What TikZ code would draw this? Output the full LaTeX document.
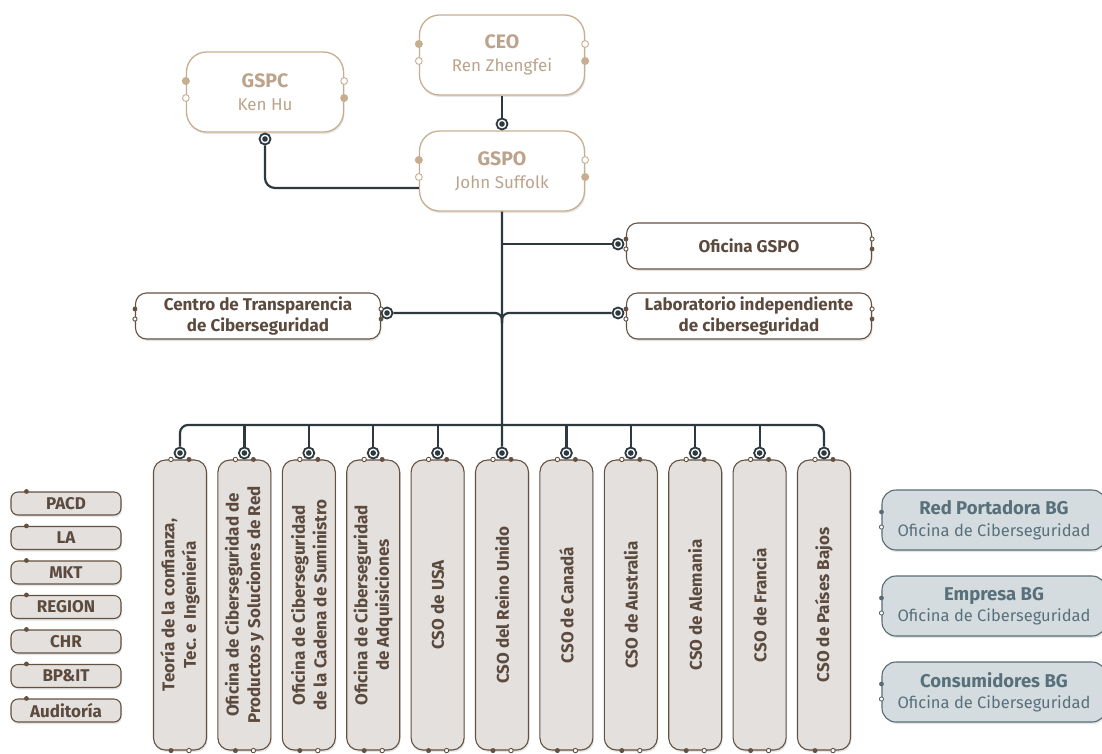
\documentclass[tikz,border=0pt]{standalone}
\usepackage{fontspec}
\setmainfont{Fira Sans}
\usetikzlibrary{positioning, shadows}
\definecolor{tanline}{HTML}{C8AE90}
\definecolor{tantext}{HTML}{BBA38C}
\definecolor{brownline}{HTML}{65513F}
\definecolor{browntext}{HTML}{5B4A3D}
\definecolor{colfill}{HTML}{E3E0DD}
\definecolor{bgfill}{HTML}{D5DCDF}
\definecolor{bgline}{HTML}{586C76}
\definecolor{bgtext}{HTML}{58707B}
\definecolor{linkc}{HTML}{2D393F}
\newcommand\headname[1]{{\fontsize{19.5}{24}\selectfont\bfseries #1}}

\begin{document}
\begin{tikzpicture}[x=1pt,y=-1pt,softshadow/.style={drop shadow={shadow xshift=1pt,shadow yshift=-2pt,opacity=0.10,fill=black}},topbox/.style={draw=tanline,line width=1.3pt,rounded corners=20pt,fill=white,align=center,text=tantext,font=\fontsize{17}{23}\selectfont,minimum width=165pt,minimum height=80pt,softshadow},midbox/.style={draw=brownline,line width=1.1pt,rounded corners=11pt,fill=white,align=center,text=browntext,font=\bfseries\fontsize{17}{21.5}\selectfont,minimum width=245pt,minimum height=46pt,inner sep=2pt,softshadow},colbox/.style={draw=brownline,line width=1.1pt,rounded corners=12pt,fill=colfill,rotate=90,align=center,text=browntext,font=\bfseries\fontsize{17}{21.5}\selectfont,minimum width=290pt,minimum height=53pt,inner sep=2pt,softshadow},tagbox/.style={draw=brownline,line width=1.1pt,rounded corners=7pt,fill=colfill,text=browntext,font=\bfseries\fontsize{17}{20}\selectfont,minimum width=110pt,minimum height=23pt,inner sep=0pt,softshadow},bgbox/.style={draw=bgline,line width=1.1pt,rounded corners=14pt,fill=bgfill,align=center,text=bgtext,font=\fontsize{16.5}{21.5}\selectfont,minimum width=224pt,minimum height=60pt,inner sep=2pt,softshadow},link/.style={draw=linkc,line width=2.2pt},marker/.style={circle,draw=linkc,line width=1.8pt,fill=white,minimum size=11pt,inner sep=0pt,path picture={\fill[linkc] (path picture bounding box.center) circle (2.8pt);}},dotfill/.style={fill=#1},dothollow/.style={draw=#1,fill=white,line width=0.9pt}]
\useasboundingbox[fill=white] (0,0) rectangle (1102,753);
\node[topbox] (ceo) at (502,55) {\headname{CEO}\\Ren Zhengfei};
\node[topbox, minimum width=157pt] (gspc) at (265,92) {\headname{GSPC}\\Ken Hu};
\node[topbox] (gspo) at (502,171) {\headname{GSPO}\\John Suffolk};
\node[marker] (mgspo) at (502,124) {};
\node[marker] (mgspc) at (265,139) {};
\draw[link] (ceo) -- (mgspo);
\draw[link, rounded corners=10pt] (mgspc) |- ([yshift=-17pt]gspo.west);
\node[midbox] (ofi) at (749,246) {Oficina GSPO};
\node[midbox] (lab) at (749,316) {Laboratorio independiente\\de ciberseguridad};
\node[midbox] (centro) at (258,316) {Centro de Transparencia\\de Ciberseguridad};
\node[marker] (mofi) at (618,244) {};
\node[marker] (mlab) at (618,313) {};
\node[marker] (mcentro) at (387,313) {};
\coordinate (hop) at (502,323);
\coordinate (bus) at (502,425);
\draw[link] (gspo.south |- mofi) -- (mofi);
\draw[link, rounded corners=7pt] (mcentro) -| (hop);\draw[link, rounded corners=7pt] (mlab) -| (hop);
\node[colbox] (c1) at (180,605) {Teoría de la confianza,\\Tec. e Ingeniería};
\node[colbox] (c2) at (244.4,605) {Oficina de Ciberseguridad de\\Productos y Soluciones de Red};
\node[colbox] (c3) at (308.8,605) {Oficina de Ciberseguridad\\de la Cadena de Suministro};
\node[colbox] (c4) at (373.2,605) {Oficina de Ciberseguridad\\de Adquisiciones};
\node[colbox] (c5) at (437.6,605) {CSO de USA};
\node[colbox] (c6) at (502,605) {CSO del Reino Unido};
\node[colbox] (c7) at (566.4,605) {CSO de Canadá};
\node[colbox] (c8) at (630.8,605) {CSO de Australia};
\node[colbox] (c9) at (695.2,605) {CSO de Alemania};
\node[colbox] (c10) at (759.6,605) {CSO de Francia};
\node[colbox] (c11) at (824,605) {CSO de Países Bajos};
\foreach \i in {1,...,11} \node[marker] (mc\i) at (115.6+64.4*\i,453) {};
\draw[link] (gspo) -- (mc6);
\draw[link, rounded corners=8pt] (mc1) |- (bus) -| (mc11);
\foreach \i in {2,3,4,5,7,8,9,10} \draw[link] (mc\i) -- (mc\i |- bus);
\node[tagbox] (pacd) at (66,503.5) {PACD};
\node[tagbox] (la) at (66,538) {LA};
\node[tagbox] (mkt) at (66,572.5) {MKT};
\node[tagbox] (region) at (66,607) {REGION};
\node[tagbox] (chr) at (66,641.5) {CHR};
\node[tagbox] (bpit) at (66,676) {BP\&IT};
\node[tagbox] (audit) at (66,710.5) {Auditoría};
\node[bgbox] (redbg) at (994,520) {\textbf{\fontsize{18.5}{21.5}\selectfont Red Portadora BG}\\Oficina de Ciberseguridad};
\node[bgbox] (empbg) at (994,606) {\textbf{\fontsize{18.5}{21.5}\selectfont Empresa BG}\\Oficina de Ciberseguridad};
\node[bgbox] (conbg) at (994,692) {\textbf{\fontsize{18.5}{21.5}\selectfont Consumidores BG}\\Oficina de Ciberseguridad};
\foreach \n in {ceo,gspc,gspo} {\fill[dotfill=tanline] ([yshift=11pt]\n.west) circle (4pt) ([yshift=-6pt]\n.east) circle (4pt);\draw[dothollow=tanline] ([yshift=-6pt]\n.west) circle (3.4pt) ([yshift=11pt]\n.east) circle (3.4pt);}
\foreach \n in {ofi,lab,centro} {\fill[dotfill=brownline] ([yshift=7pt]\n.west) circle (2.4pt) ([yshift=-3pt]\n.east) circle (2.4pt);\draw[dothollow=brownline] ([yshift=-3pt]\n.west) circle (2.1pt) ([yshift=7pt]\n.east) circle (2.1pt);}
\foreach \i in {1,...,11} {\fill[dotfill=brownline] ([xshift=9pt]c\i.east) circle (2.5pt) ([xshift=-9pt]c\i.west) circle (2.5pt);\draw[dothollow=brownline] ([xshift=-9pt]c\i.east) circle (2.2pt) ([xshift=9pt]c\i.west) circle (2.2pt);}
\foreach \n in {pacd,la,mkt,region,chr,bpit,audit} \fill[dotfill=brownline] ([xshift=16pt]\n.north west) circle (2.4pt);
\foreach \n in {redbg,empbg,conbg} {\fill[dotfill=bgline] ([yshift=8pt]\n.west) circle (2.4pt);\draw[dothollow=bgline] ([yshift=-7pt]\n.west) circle (2.1pt);}
\end{tikzpicture}
\end{document}
